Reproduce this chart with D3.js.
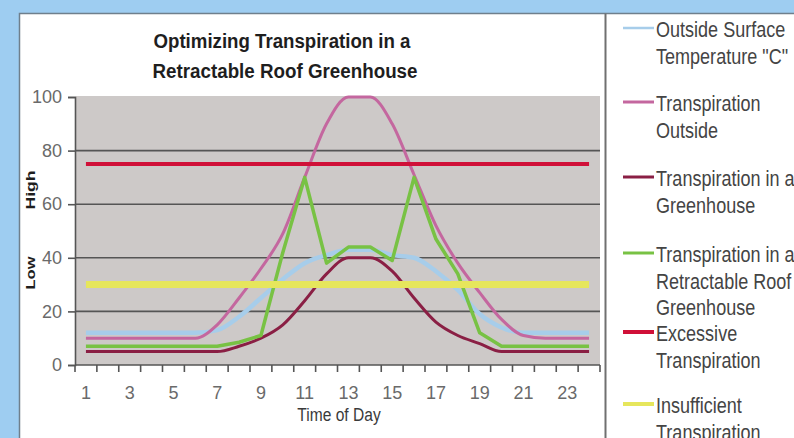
<!DOCTYPE html>
<html>
<head>
<meta charset="utf-8">
<script src="https://cdn.jsdelivr.net/npm/d3@7"></script>
<style>
  html, body { margin: 0; padding: 0; background: #9ecdf1; }
  svg { display: block; }
</style>
</head>
<body>
<svg id="chart" width="794" height="438"></svg>
<script>
// Hour of day (categories)
const hours = [1, 2, 3, 4, 5, 6, 7, 8, 9, 10, 11, 12, 13, 14, 15, 16, 17, 18, 19, 20, 21, 22, 23, 24];
const xTickLabels = [1, 3, 5, 7, 9, 11, 13, 15, 17, 19, 21, 23];
const yTickValues = [0, 20, 40, 60, 80, 100];
const gridValues = [20, 40, 60, 80];

const titleLines = ["Optimizing Transpiration in a", "Retractable Roof Greenhouse"];

// Series values, one per hour
const outsideTemp       = [12, 12, 12, 12, 12, 12, 13, 18, 25, 32, 38, 41, 43, 43, 41, 40, 35, 28, 19, 14, 12, 12, 12, 12];
const transpOutside     = [10, 10, 10, 10, 10, 10, 15, 25, 36, 49, 70, 90, 100, 100, 90, 71, 52, 38, 27, 17, 11, 10, 10, 10];
const transpGreenhouse  = [5, 5, 5, 5, 5, 5, 5, 7, 10, 15, 24, 34, 40, 40, 35, 25, 16, 11, 8, 5, 5, 5, 5, 5];
const transpRetractable = [7, 7, 7, 7, 7, 7, 7, 8.5, 11, 42, 70, 38, 44, 44, 39, 70, 47, 34, 12, 7, 7, 7, 7, 7];
const excessive         = [75, 75, 75, 75, 75, 75, 75, 75, 75, 75, 75, 75, 75, 75, 75, 75, 75, 75, 75, 75, 75, 75, 75, 75];
const insufficient      = [30, 30, 30, 30, 30, 30, 30, 30, 30, 30, 30, 30, 30, 30, 30, 30, 30, 30, 30, 30, 30, 30, 30, 30];

const legendLabels = [
  ["Outside Surface", "Temperature \"C\""],
  ["Transpiration", "Outside"],
  ["Transpiration in a", "Greenhouse"],
  ["Transpiration in a", "Retractable Roof", "Greenhouse"],
  ["Excessive", "Transpiration"],
  ["Insufficient", "Transpiration"]
];

// Drawing styles for each series (same order as the legend)
const seriesStyles = [
  { color: "#a7cdea", width: 4.5, key: 2.5, smooth: true },
  { color: "#c4679f", width: 3,   key: 3,   smooth: true },
  { color: "#8a1f44", width: 3,   key: 3,   smooth: true },
  { color: "#78c244", width: 3.5, key: 3,   smooth: false },
  { color: "#d01038", width: 4,   key: 4,   smooth: false },
  { color: "#e6e65c", width: 7,   key: 4,   smooth: false }
];
const seriesData = [outsideTemp, transpOutside, transpGreenhouse, transpRetractable, excessive, insufficient];

const svg = d3.select("#chart");
const W = 794, H = 438;
const FONT = "'Liberation Sans', Arial, sans-serif";
const NARROW = 0.82; // horizontal squeeze for the condensed lettering

// Page frame
svg.append("rect").attr("x", 0).attr("y", 0).attr("width", W).attr("height", H).attr("fill", "#9ecdf1");
svg.append("rect").attr("x", 19.5).attr("y", 13.5).attr("width", W).attr("height", H)
  .attr("fill", "#ffffff").attr("stroke", "#6f7f8c").attr("stroke-width", 1.5);
svg.append("line").attr("x1", 605.5).attr("x2", 605.5).attr("y1", 13.5).attr("y2", H)
  .attr("stroke", "#707070").attr("stroke-width", 2);

// Plot area
const plot = { left: 75, right: 600, top: 97, bottom: 365 };
const x = d3.scaleBand().domain(hours).range([plot.left, plot.right]);
const cx = d => x(d) + x.bandwidth() / 2;
const y = d3.scaleLinear().domain([0, 100]).range([plot.bottom, plot.top]);

svg.append("rect").attr("x", plot.left).attr("y", y(100) - 1)
  .attr("width", plot.right - plot.left).attr("height", plot.bottom - y(100) + 1)
  .attr("fill", "#cdc9c8");

svg.append("g").selectAll("line").data(gridValues).join("line")
  .attr("x1", plot.left).attr("x2", plot.right)
  .attr("y1", d => y(d)).attr("y2", d => y(d))
  .attr("stroke", "#555555").attr("stroke-width", 1.6);

// Y axis
const yAxis = svg.append("g").attr("transform", `translate(${plot.left},0)`)
  .call(d3.axisLeft(y).tickValues(yTickValues).tickSize(7).tickPadding(6));
yAxis.select(".domain").attr("stroke", "#555").attr("stroke-width", 1.6);
yAxis.selectAll(".tick line").attr("stroke", "#555").attr("stroke-width", 1.6);
yAxis.selectAll("text").attr("fill", "#6a6a6a")
  .style("font-family", FONT).style("font-size", "18px");

// X axis: labels on odd hours, tick marks between categories
const xAxis = svg.append("g").attr("transform", `translate(0,${plot.bottom})`)
  .call(d3.axisBottom(x).tickValues(xTickLabels).tickSize(0).tickPadding(21));
xAxis.select(".domain").remove();
xAxis.selectAll("text").attr("fill", "#6a6a6a")
  .style("font-family", FONT).style("font-size", "18px");
svg.append("line").attr("x1", plot.left).attr("x2", plot.right)
  .attr("y1", plot.bottom).attr("y2", plot.bottom)
  .attr("stroke", "#555").attr("stroke-width", 1.6);
const boundaries = hours.map(d => x(d)).concat([plot.right]);
svg.append("g").selectAll("line").data(boundaries).join("line")
  .attr("x1", d => d).attr("x2", d => d)
  .attr("y1", plot.bottom).attr("y2", plot.bottom + 7)
  .attr("stroke", "#555").attr("stroke-width", 1.6);

// Series lines
seriesData.forEach((vals, i) => {
  const st = seriesStyles[i];
  const line = d3.line()
    .x((v, j) => cx(hours[j]))
    .y(v => y(v))
    .curve(st.smooth ? d3.curveMonotoneX : d3.curveLinear);
  svg.append("path").datum(vals)
    .attr("d", line)
    .attr("fill", "none")
    .attr("stroke", st.color)
    .attr("stroke-width", st.width)
    .attr("stroke-linejoin", "round")
    .attr("stroke-linecap", "butt");
});

// Title
svg.append("g").selectAll("text").data(titleLines).join("text")
  .attr("x", (d, i) => i === 0 ? 282 : 285)
  .attr("y", (d, i) => 48 + i * 30)
  .attr("text-anchor", "middle")
  .attr("textLength", (d, i) => i === 0 ? 257 : 265)
  .attr("lengthAdjust", "spacingAndGlyphs")
  .attr("fill", "#1e1e1e")
  .style("font-family", FONT)
  .style("font-weight", "bold").style("font-size", "20px")
  .text(d => d);

// Axis titles
const sideLabels = [{ t: "High", yc: 190, len: 39 }, { t: "Low", yc: 273, len: 33 }];
svg.append("g").selectAll("text").data(sideLabels).join("text")
  .attr("transform", d => `translate(35,${d.yc}) rotate(-90)`)
  .attr("text-anchor", "middle")
  .attr("textLength", d => d.len)
  .attr("lengthAdjust", "spacingAndGlyphs")
  .attr("fill", "#1e1e1e")
  .style("font-family", FONT)
  .style("font-weight", "bold").style("font-size", "13px")
  .text(d => d.t);

svg.append("text")
  .attr("transform", `translate(339,421) scale(${NARROW},1)`)
  .attr("text-anchor", "middle")
  .attr("fill", "#3a3a3a")
  .style("font-family", FONT)
  .style("font-size", "19px")
  .text("Time of Day");

// Legend
const legendBaselines = [37, 111, 186, 262, 341, 413];
const legendLineGap = 26.5;
const legend = svg.append("g");
legendLabels.forEach((lines, i) => {
  const st = seriesStyles[i];
  const b = legendBaselines[i];
  legend.append("line")
    .attr("x1", 623).attr("x2", 654)
    .attr("y1", b - 9).attr("y2", b - 9)
    .attr("stroke", st.color)
    .attr("stroke-width", st.key);
  lines.forEach((ln, k) => {
    legend.append("text")
      .attr("transform", `translate(656,${b + k * legendLineGap}) scale(${NARROW},1)`)
      .attr("fill", "#444444")
      .style("font-family", FONT)
      .style("font-size", "22px")
      .text(ln);
  });
});
</script>
</body>
</html>
